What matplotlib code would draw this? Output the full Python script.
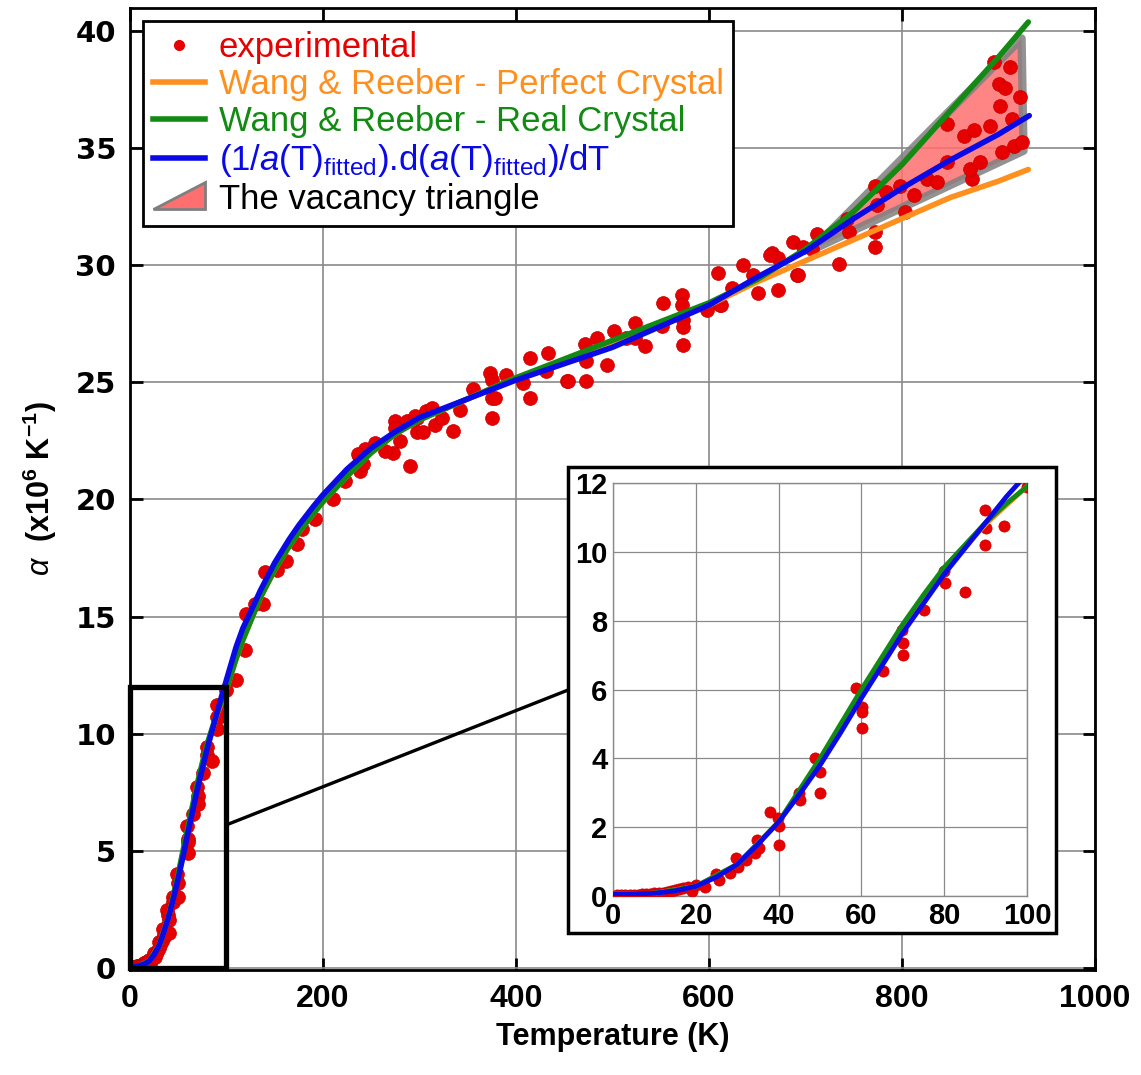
import numpy as np
import matplotlib
matplotlib.use("Agg")
import matplotlib.pyplot as plt
from matplotlib.patches import Polygon, Rectangle, ConnectionPatch
from matplotlib.lines import Line2D
from matplotlib.legend_handler import HandlerPatch

plt.rcParams['font.family'] = ['Liberation Sans', 'DejaVu Sans']
plt.rcParams['mathtext.fontset'] = 'custom'
plt.rcParams['mathtext.rm'] = 'Liberation Sans'
plt.rcParams['mathtext.it'] = 'Liberation Sans:italic'
plt.rcParams['mathtext.bf'] = 'Liberation Sans:bold'

# 1. Data
# model curves (temperature in K, alpha in 1e-6 / K)
t_fit = [0, 5, 10, 15, 20, 25, 30, 35, 40, 45, 50, 55, 60, 65, 70, 75, 80, 85, 90, 95, 98,
         100, 105, 110, 117, 125, 135, 150, 165, 175, 190, 200, 225, 250, 275, 300, 350, 400,
         450, 500, 550, 600, 650, 700, 750, 800, 850, 900, 932]
a_fit = [0.05, 0.06, 0.08, 0.15, 0.28, 0.55, 0.92, 1.5, 2.15, 2.95, 3.8, 4.75, 5.75, 6.7, 7.65,
         8.5, 9.35, 10.1, 10.85, 11.6, 12.0,
         12.3, 13.0, 13.7, 14.5, 15.2, 16.1, 17.3, 18.3, 18.9, 19.7, 20.2, 21.3, 22.2, 22.9,
         23.5, 24.3, 25.1, 25.8, 26.5, 27.4, 28.3, 29.5, 30.6, 32.0, 33.3, 34.5, 35.6, 36.4]

t_real = [0, 10, 20, 30, 40, 50, 55, 60, 65, 70, 75, 80, 85, 90, 95, 100,
          105, 110, 117, 125, 135, 150, 165, 175, 190, 200, 225, 250, 275, 300, 350, 400, 450,
          500, 550, 600, 650, 700, 750, 800, 850, 900, 931]
a_real = [0.05, 0.08, 0.28, 0.92, 2.15, 4.0, 5.0, 6.0, 6.95, 7.9, 8.75, 9.55, 10.2, 10.85, 11.4,
          11.9, 12.55, 13.2, 14.0, 14.8, 15.8, 17.0, 18.0, 18.6, 19.4, 19.9, 21.0, 22.0, 22.8,
          23.4, 24.3, 25.2, 26.0, 26.8, 27.6, 28.4, 29.4, 30.7, 32.3, 34.3, 36.6, 38.9, 40.4]

t_perfect = [0, 10, 20, 30, 40, 50, 60, 70, 80, 90, 100,
             105, 110, 117, 125, 135, 150, 165, 175, 190, 200, 225, 250, 275, 300, 350, 400,
             450, 500, 550, 600, 650, 700, 750, 800, 850, 900, 931]
a_perfect = [0.05, 0.08, 0.28, 0.92, 2.15, 3.9, 5.9, 7.8, 9.45, 10.8, 11.9,
             12.55, 13.2, 14.0, 14.8, 15.8, 17.0, 18.0, 18.6, 19.4, 19.9, 21.0, 22.0, 22.8, 23.4,
             24.3, 25.2, 25.9, 26.7, 27.5, 28.3, 29.3, 30.2, 31.1, 32.0, 32.9, 33.6, 34.1]

# experimental points
t_exp = [1, 2, 3, 4, 5, 6, 7, 8, 9, 10, 11, 12, 13, 14, 15, 16, 17, 18, 19, 20,
         22.2, 24.8, 25.7, 28.3, 29.8, 30.2, 32.2, 34.3, 34.7, 35.2, 38.0, 39.8, 40.1, 40.1,
         44.9, 45.1, 48.8, 50.1, 50.1, 58.8, 60.1, 60.1, 60.1, 65.3, 69.8, 70.0, 70.0, 75.2,
         79.9, 80.1, 85.0, 89.9, 90.1, 89.9, 94.4, 100,
         110, 119, 120, 129.5, 138, 140, 152, 162, 172.7, 178, 191.7, 210.7, 222.8, 238.3,
         241.8, 237.6, 243.5, 253.9, 272.9, 274.6, 274.6, 279.8, 290.2, 286.7, 297, 297, 304, 307,
         236.6, 264.3, 295.3, 312.6, 316, 323, 335, 342, 355.8, 373, 374.8, 374.8, 374.8, 378,
         390, 407.6, 414.5, 414.5, 431.5, 433.5, 452.5, 471.5, 473, 473,
         454.3, 483.6, 494, 501.9, 513.9, 523.3, 523.3, 533.7, 552.6, 550.9, 571.6, 571.6,
         573.3, 573.3, 573.3, 597.5, 609.6, 611.4, 623.4, 634.8, 645.9, 651, 665, 672, 672,
         687.6, 691, 613, 663.3, 692.7, 697.9, 706.6, 711.7, 734.3, 744.7, 742.9,
         771.9, 771.9, 771.9, 773.7, 784, 797.9, 803, 812.2, 826, 836.4, 846.8, 846.8, 864,
         872.5, 874.4, 871, 881.3, 891.7, 895, 900.3, 902, 903.7, 912.3, 907.1, 914, 915.7,
         922.7, 924.4]
a_exp = [0.02, 0.02, 0.03, 0.03, 0.04, 0.04, 0.05, 0.06, 0.07, 0.08, 0.09, 0.1, 0.12, 0.15,
         0.18, 0.2, 0.22, 0.25, 0.15, 0.32,
         0.27, 0.63, 0.47, 0.66, 1.11, 0.85, 1.05, 1.24, 1.63, 1.39, 2.45, 2.26, 2.02, 1.48,
         3.0, 2.79, 4.0, 3.61, 3.0, 6.04, 5.5, 5.36, 4.89, 6.55, 7.73, 7.34, 7.0, 8.31,
         9.43, 9.09, 8.82, 11.22, 10.69, 10.2, 10.76, 11.88,
         12.28, 13.56, 15.12, 15.55, 15.55, 16.9, 16.97, 17.39, 18.1, 18.74, 19.16, 20.0, 20.8,
         21.22, 21.5, 21.86, 22.14, 22.43, 22.0, 23.35, 23.06, 22.5, 21.43, 23.35, 23.5, 22.9,
         22.9, 23.8,
         21.93, 22.07, 23.56, 23.91, 23.2, 23.49, 22.92, 23.84, 24.74, 25.4, 25.12, 24.34, 23.49,
         24.34, 25.33, 24.98, 26.04, 24.34, 25.47, 26.26, 25.05, 26.65, 25.9, 25.05,
         25.05, 26.9, 25.76, 27.18, 26.9, 27.53, 26.9, 26.54, 28.38, 27.4, 28.74, 28.31,
         27.67, 27.39, 26.61, 28.1, 29.66, 28.31, 29.02, 30.01, 29.59, 28.81, 30.51, 30.3, 28.95,
         31.0, 29.59, 28.3, 30.44, 29.6, 30.8, 30.72, 31.36, 30.08, 31.43, 32.0,
         33.4, 31.43, 30.8, 32.57, 33.14, 33.4, 32.28, 32.99, 33.7, 33.55, 34.4, 36.04, 35.55,
         33.7, 35.8, 34.13, 34.4, 35.97, 38.67, 37.74, 36.82, 34.84, 38.46, 37.6, 36.25, 35.12,
         37.18, 35.27]

# vacancy triangle corners
tri_t = [706, 924, 926]
tri_a = [30.65, 39.7, 34.9]

# 2. Styles
c_exp = '#e60000'
c_perf = '#ff9020'
c_real = '#138a13'
c_fit = '#0a0ae6'

fig = plt.figure(figsize=(11.41, 10.75), dpi=100)
ax = fig.add_axes([0.1139, 0.0977, 0.8457, 0.8949])

tri = Polygon(np.column_stack([tri_t, tri_a]), closed=True, facecolor='#ff6f6f',
              edgecolor='#7f7f7f', linewidth=6, alpha=0.85, zorder=2, joinstyle='round')
ax.add_patch(tri)
ax.scatter(t_exp, a_exp, s=100, color=c_exp, edgecolors='#c80000', linewidths=0.5, zorder=3)
ax.plot(t_perfect, a_perfect, color=c_perf, lw=4, zorder=4, solid_capstyle='round')
ax.plot(t_real, a_real, color=c_real, lw=4, zorder=5, solid_capstyle='round')
ax.plot(t_fit, a_fit, color=c_fit, lw=4, zorder=6, solid_capstyle='round')

# zoom rectangle
ax.add_patch(Rectangle((0, 0), 100, 12, fill=False, edgecolor='black', lw=3.8, zorder=7,
                       clip_on=False))

ax.set_xlim(0, 1000)
ax.set_ylim(-0.1, 41)
ax.set_xticks(np.arange(0, 1001, 200))
ax.set_yticks(np.arange(0, 41, 5))
ax.grid(True, color='#8a8a8a', lw=1.2)
ax.set_axisbelow(True)
ax.tick_params(direction='in', length=9, width=2, top=True, right=True, pad=10)
for lab in ax.get_xticklabels():
    lab.set_fontsize(23)
    lab.set_fontweight('bold')
for lab in ax.get_yticklabels():
    lab.set_family('DejaVu Sans')
    lab.set_fontsize(21)
    lab.set_fontweight('bold')
for sp in ax.spines.values():
    sp.set_linewidth(2)
ax.set_xlabel('Temperature (K)', fontsize=22, fontweight='bold', labelpad=6)
ax.set_ylabel(r'$\mathit{\alpha}$  (x10$^{\mathbf{6}}$ K$^{\mathbf{-1}}$)', fontsize=22,
              fontweight='bold', labelpad=12)


# legend with triangle icon
def make_tri(legend, orig_handle, xdescent, ydescent, width, height, fontsize):
    return Polygon([[-xdescent, -ydescent], [width - xdescent, -ydescent],
                    [width - xdescent, height - ydescent + 2]], closed=True)


handles = [
    Line2D([], [], ls='none', marker='o', ms=7, color=c_exp),
    Line2D([], [], color=c_perf, lw=4),
    Line2D([], [], color=c_real, lw=4),
    Line2D([], [], color=c_fit, lw=4),
    Polygon([[0, 0], [1, 0], [1, 1]], facecolor='#ff6f6f', edgecolor='#7f7f7f', lw=2),
]
labels = ['experimental', 'Wang & Reeber - Perfect Crystal', 'Wang & Reeber - Real Crystal',
          r'(1/$a$(T)$_{\mathrm{fitted}}$).d($a$(T)$_{\mathrm{fitted}}$)/dT',
          'The vacancy triangle']
leg = ax.legend(handles, labels, loc='upper left', bbox_to_anchor=(0.0135, 0.9865),
                borderaxespad=0, fontsize=25, handlelength=1.5, handletextpad=0.4,
                labelspacing=0.12, borderpad=0.28, fancybox=False, framealpha=1,
                edgecolor='black', handler_map={Polygon: HandlerPatch(patch_func=make_tri)})
leg.get_frame().set_linewidth(2)
leg.set_zorder(10)
for txt, col in zip(leg.get_texts(), [c_exp, c_perf, c_real, c_fit, 'black']):
    txt.set_color(col)

# 3. Inset
box = Rectangle((0.4978, 0.1321), 0.4277, 0.4335, transform=fig.transFigure,
                facecolor='white', edgecolor='black', lw=2.5, zorder=20)
fig.patches.append(box)
con = ConnectionPatch(xyA=(100, 6.1), coordsA=ax.transData, xyB=(0.4978, 0.3581),
                      coordsB=fig.transFigure, color='black', lw=2.4, zorder=8)
fig.patches.append(con)

axi = fig.add_axes([0.5373, 0.1665, 0.3628, 0.3842])
axi.set_zorder(30)
axi.scatter(t_exp, a_exp, s=65, color=c_exp, edgecolors='#c80000', linewidths=0.5, zorder=3)
axi.plot(t_perfect, a_perfect, color=c_perf, lw=3.5, zorder=4)
axi.plot(t_real, a_real, color=c_real, lw=3.5, zorder=5)
axi.plot(t_fit, a_fit, color=c_fit, lw=3.5, zorder=6)
axi.set_xlim(0, 100)
axi.set_ylim(0, 12)
axi.set_xticks(np.arange(0, 101, 20))
axi.set_yticks(np.arange(0, 13, 2))
axi.grid(True, color='#8a8a8a', lw=0.9)
axi.set_axisbelow(True)
axi.tick_params(length=0, pad=4, labelsize=21)
for lab in axi.get_xticklabels() + axi.get_yticklabels():
    lab.set_fontweight('bold')
for sp in axi.spines.values():
    sp.set_linewidth(1)
    sp.set_color('#8a8a8a')

plt.savefig('out.png', dpi=100)
